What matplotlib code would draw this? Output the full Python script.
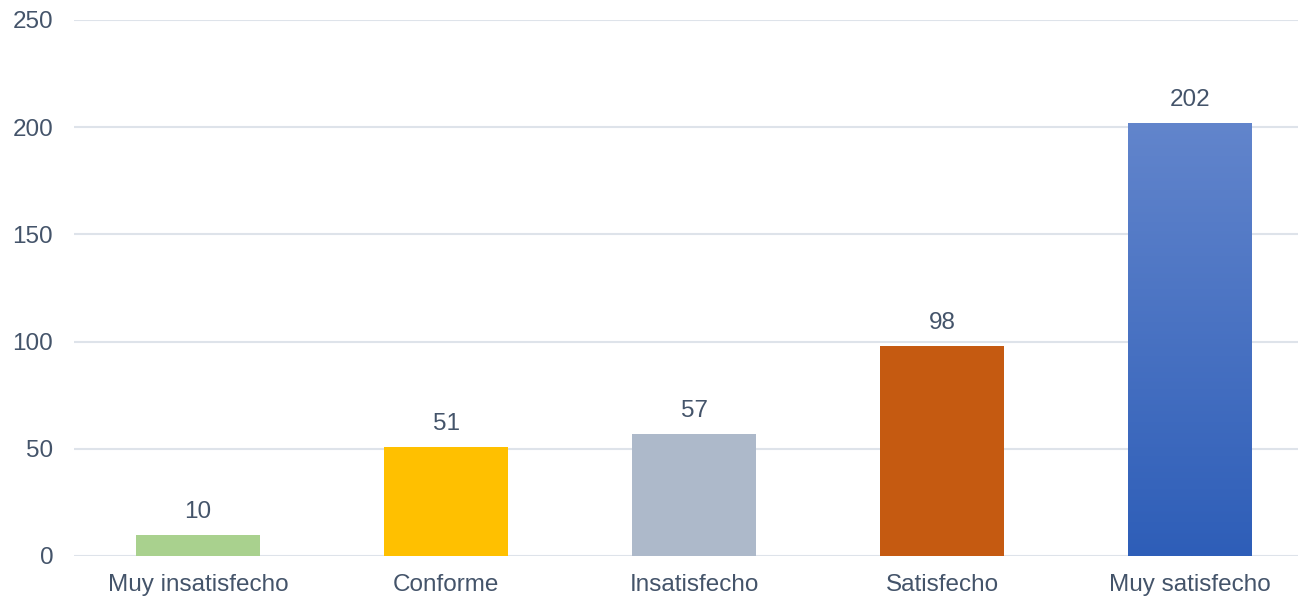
import matplotlib
matplotlib.use("Agg")
import matplotlib.pyplot as plt
import numpy as np
from matplotlib.colors import LinearSegmentedColormap

categories = ["Muy insatisfecho", "Conforme", "Insatisfecho", "Satisfecho", "Muy satisfecho"]
values = [10, 51, 57, 98, 202]
colors = ["#A9D18E", "#FFC000", "#ADB9CA", "#C55A11", "#4472C4"]
yticks = [0, 50, 100, 150, 200, 250]

plt.rcParams['font.family'] = ['Liberation Sans', 'DejaVu Sans']
text_color = "#44546A"
grid_color = "#DEE3EA"

fig = plt.figure(figsize=(12.98, 5.96), dpi=100)
ax = fig.add_axes([74/1298, 40/596, 1240/1298, 536/596])

x = np.arange(len(categories))
bars = ax.bar(x, values, width=0.5, color=colors, zorder=3)

# gradient for the last bar
gb = bars[-1]
cmap = LinearSegmentedColormap.from_list("bl", ["#2E5EB8", "#6285CC"])
grad = np.linspace(0, 1, 256).reshape(-1, 1)
bx, by = gb.get_x(), gb.get_y()
bw, bh = gb.get_width(), gb.get_height()
im = ax.imshow(grad, cmap=cmap, origin="lower", aspect="auto",
               extent=[bx, bx + bw, by, by + bh], zorder=4)
im.set_clip_path(gb)

for xi, v in zip(x, values):
    ax.annotate(str(v), (xi, v), xytext=(0, 8.5), textcoords="offset points",
                ha="center", va="bottom", fontsize=17.5, color=text_color)

ax.set_xlim(-0.5, len(categories) - 0.5)
ax.set_ylim(0, 250)
ax.set_yticks(yticks)
ax.set_xticks(x)
ax.set_xticklabels(categories)
ax.tick_params(axis="both", length=0, labelsize=17.5, colors=text_color)
ax.tick_params(axis="x", pad=13)
ax.tick_params(axis="y", pad=15)
ax.grid(axis="y", color=grid_color, linewidth=1.5, zorder=0)
for s in ax.spines.values():
    s.set_visible(False)

fig.savefig("out.png", dpi=100)
